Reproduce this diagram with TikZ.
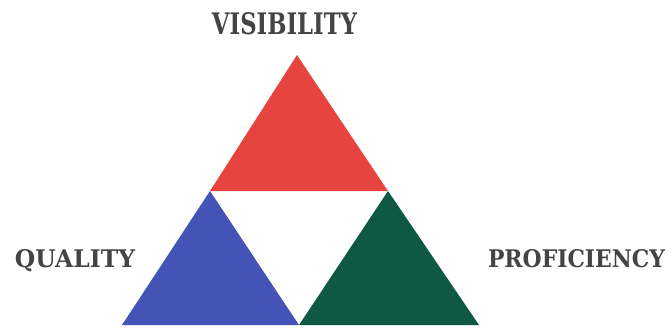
\documentclass[tikz,border=0pt]{standalone}
\usepackage{fontspec}
\usepackage{graphicx}
\setmainfont{DejaVu Serif}
\definecolor{tred}{HTML}{E8443F}
\definecolor{tblue}{HTML}{4453B6}
\definecolor{tgreen}{HTML}{0F5944}
\definecolor{ttext}{HTML}{444444}
\begin{document}
\begin{tikzpicture}[x=1pt,y=-1pt,
  lbl/.style={inner sep=0pt,text=ttext,font=\bfseries}]
\useasboundingbox (0,0) rectangle (672,327);
\coordinate (apex) at (297,55);
\coordinate (ml) at (210,191);
\coordinate (mr) at (388,191);
\coordinate (bl) at (122,325);
\coordinate (bm) at (299,325);
\coordinate (br) at (479,325);
\fill[tred] (apex) -- (mr) -- (ml) -- cycle;
\fill[tblue] (ml) -- (bm) -- (bl) -- cycle;
\fill[tgreen] (mr) -- (br) -- (bm) -- cycle;
\node[lbl] (vis) at (284.5,24) {\resizebox{145pt}{22pt}{VISIBILITY}};
\node[lbl] (qual) at (75,261) {\resizebox{120pt}{18pt}{QUALITY}};
\node[lbl] (prof) at (576.5,259) {\resizebox{177pt}{18pt}{PROFICIENCY}};
\end{tikzpicture}
\end{document}
